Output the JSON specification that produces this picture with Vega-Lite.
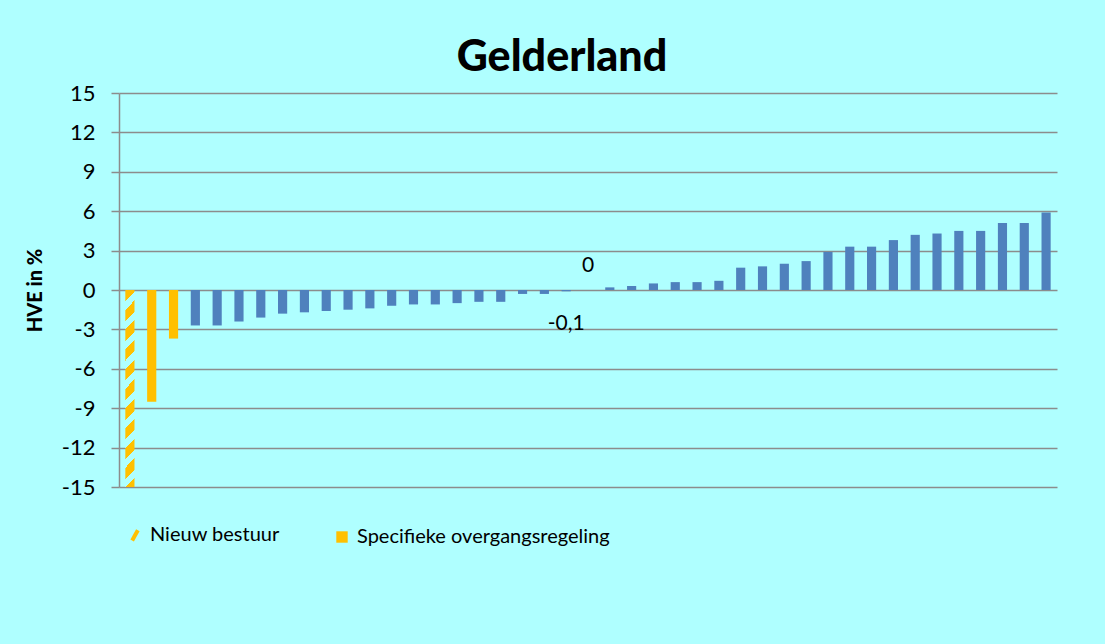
{
  "$schema": "https://vega.github.io/schema/vega-lite/v6.json",
  "autosize": {"type": "none"},
  "width": 938,
  "height": 394,
  "padding": {"left": 119, "top": 93, "right": 48, "bottom": 157},
  "background": "#AFFFFF",
  "title": {
    "text": "Gelderland",
    "font": "Lato",
    "fontSize": 43,
    "fontWeight": 900,
    "color": "#000000",
    "anchor": "middle",
    "dx": -26,
    "offset": 2
  },
  "data": {
    "values": [
      {"i": 0, "value": -15, "series": "Nieuw bestuur", "label": null},
      {"i": 1, "value": -8.5, "series": "Specifieke overgangsregeling", "label": null},
      {"i": 2, "value": -3.7, "series": "Specifieke overgangsregeling", "label": null},
      {"i": 3, "value": -2.7, "series": "Overig", "label": null},
      {"i": 4, "value": -2.7, "series": "Overig", "label": null},
      {"i": 5, "value": -2.4, "series": "Overig", "label": null},
      {"i": 6, "value": -2.1, "series": "Overig", "label": null},
      {"i": 7, "value": -1.8, "series": "Overig", "label": null},
      {"i": 8, "value": -1.7, "series": "Overig", "label": null},
      {"i": 9, "value": -1.6, "series": "Overig", "label": null},
      {"i": 10, "value": -1.5, "series": "Overig", "label": null},
      {"i": 11, "value": -1.4, "series": "Overig", "label": null},
      {"i": 12, "value": -1.2, "series": "Overig", "label": null},
      {"i": 13, "value": -1.1, "series": "Overig", "label": null},
      {"i": 14, "value": -1.1, "series": "Overig", "label": null},
      {"i": 15, "value": -1.0, "series": "Overig", "label": null},
      {"i": 16, "value": -0.9, "series": "Overig", "label": null},
      {"i": 17, "value": -0.9, "series": "Overig", "label": null},
      {"i": 18, "value": -0.3, "series": "Overig", "label": null},
      {"i": 19, "value": -0.3, "series": "Overig", "label": null},
      {"i": 20, "value": -0.1, "series": "Overig", "label": "-0,1"},
      {"i": 21, "value": 0, "series": "Overig", "label": "0"},
      {"i": 22, "value": 0.2, "series": "Overig", "label": null},
      {"i": 23, "value": 0.3, "series": "Overig", "label": null},
      {"i": 24, "value": 0.5, "series": "Overig", "label": null},
      {"i": 25, "value": 0.6, "series": "Overig", "label": null},
      {"i": 26, "value": 0.6, "series": "Overig", "label": null},
      {"i": 27, "value": 0.7, "series": "Overig", "label": null},
      {"i": 28, "value": 1.7, "series": "Overig", "label": null},
      {"i": 29, "value": 1.8, "series": "Overig", "label": null},
      {"i": 30, "value": 2.0, "series": "Overig", "label": null},
      {"i": 31, "value": 2.2, "series": "Overig", "label": null},
      {"i": 32, "value": 2.9, "series": "Overig", "label": null},
      {"i": 33, "value": 3.3, "series": "Overig", "label": null},
      {"i": 34, "value": 3.3, "series": "Overig", "label": null},
      {"i": 35, "value": 3.8, "series": "Overig", "label": null},
      {"i": 36, "value": 4.2, "series": "Overig", "label": null},
      {"i": 37, "value": 4.3, "series": "Overig", "label": null},
      {"i": 38, "value": 4.5, "series": "Overig", "label": null},
      {"i": 39, "value": 4.5, "series": "Overig", "label": null},
      {"i": 40, "value": 5.1, "series": "Overig", "label": null},
      {"i": 41, "value": 5.1, "series": "Overig", "label": null},
      {"i": 42, "value": 5.9, "series": "Overig", "label": null}
    ]
  },
  "encoding": {
    "x": {
      "field": "i",
      "type": "ordinal",
      "axis": null,
      "scale": {"paddingInner": 0.58, "paddingOuter": 0.29}
    },
    "y": {
      "field": "value",
      "type": "quantitative",
      "scale": {"domain": [-15, 15], "nice": false, "zero": true},
      "axis": {
        "values": [-15, -12, -9, -6, -3, 0, 3, 6, 9, 12, 15],
        "labelExpr": "datum.value < 0 ? '-' + abs(datum.value) : '' + datum.value",
        "grid": true,
        "gridColor": "#8C8C8C",
        "gridWidth": 1.5,
        "gridOpacity": 1,
        "domain": true,
        "domainColor": "#8C8C8C",
        "domainWidth": 1.5,
        "ticks": true,
        "tickColor": "#8C8C8C",
        "tickWidth": 1.5,
        "tickSize": 8,
        "labelPadding": 16,
        "labelFont": "Lato",
        "labelFontSize": 22,
        "labelColor": "#000000",
        "title": "HVE in %",
        "titleFont": "Lato",
        "titleFontSize": 20,
        "titleFontWeight": 900,
        "titleColor": "#000000",
        "titleAngle": -90,
        "titleX": -84,
        "titleY": 197,
        "titleAlign": "center",
        "titleBaseline": "middle"
      }
    }
  },
  "layer": [
    {
      "transform": [{"filter": "datum.i != 0"}],
      "mark": {"type": "bar"},
      "encoding": {
        "color": {
          "field": "series",
          "type": "nominal",
          "scale": {
            "domain": ["Nieuw bestuur", "Specifieke overgangsregeling", "Overig"],
            "range": ["#FFC000", "#FFC000", "#4F81BD"]
          },
          "legend": {
            "values": ["Nieuw bestuur", "Specifieke overgangsregeling"],
            "title": null,
            "orient": "none",
            "legendX": 6,
            "legendY": 431,
            "direction": "horizontal",
            "columnPadding": 52,
            "labelFont": "Lato",
            "labelFontSize": 20,
            "labelLimit": 0,
            "labelBaseline": "middle",
            "labelColor": "#000000",
            "labelOffset": 5,
            "symbolSize": 130,
            "encode": {
              "symbols": {
                "update": {
                  "shape": {"signal": "datum.value === 'Nieuw bestuur' ? 'M-0.5,0.9L0.5,-0.9' : 'square'"},
                  "fill": {"signal": "datum.value === 'Nieuw bestuur' ? 'transparent' : '#FFC000'"},
                  "stroke": {"signal": "datum.value === 'Nieuw bestuur' ? '#FFC000' : 'transparent'"},
                  "strokeWidth": {"signal": "datum.value === 'Nieuw bestuur' ? 4 : 0"},
                  "opacity": {"value": 1},
                  "y": {"value": 11}
                }
              },
              "labels": {
                "update": {
                  "y": {"value": 11}
                }
              }
            }
          }
        }
      }
    },
    {
      "transform": [{"filter": "datum.i == 0"}],
      "mark": {
        "type": "bar",
        "fill": {
          "gradient": "linear",
          "x1": 0, "y1": 0, "x2": 0.047, "y2": 1,
          "stops": [
            {"offset": 0.0, "color": "#FFC000"}, {"offset": 0.058, "color": "#FFC000"},
            {"offset": 0.058, "color": "#AFFFFF"}, {"offset": 0.1, "color": "#AFFFFF"},
            {"offset": 0.1, "color": "#FFC000"}, {"offset": 0.158, "color": "#FFC000"},
            {"offset": 0.158, "color": "#AFFFFF"}, {"offset": 0.2, "color": "#AFFFFF"},
            {"offset": 0.2, "color": "#FFC000"}, {"offset": 0.258, "color": "#FFC000"},
            {"offset": 0.258, "color": "#AFFFFF"}, {"offset": 0.3, "color": "#AFFFFF"},
            {"offset": 0.3, "color": "#FFC000"}, {"offset": 0.358, "color": "#FFC000"},
            {"offset": 0.358, "color": "#AFFFFF"}, {"offset": 0.4, "color": "#AFFFFF"},
            {"offset": 0.4, "color": "#FFC000"}, {"offset": 0.458, "color": "#FFC000"},
            {"offset": 0.458, "color": "#AFFFFF"}, {"offset": 0.5, "color": "#AFFFFF"},
            {"offset": 0.5, "color": "#FFC000"}, {"offset": 0.558, "color": "#FFC000"},
            {"offset": 0.558, "color": "#AFFFFF"}, {"offset": 0.6, "color": "#AFFFFF"},
            {"offset": 0.6, "color": "#FFC000"}, {"offset": 0.658, "color": "#FFC000"},
            {"offset": 0.658, "color": "#AFFFFF"}, {"offset": 0.7, "color": "#AFFFFF"},
            {"offset": 0.7, "color": "#FFC000"}, {"offset": 0.758, "color": "#FFC000"},
            {"offset": 0.758, "color": "#AFFFFF"}, {"offset": 0.8, "color": "#AFFFFF"},
            {"offset": 0.8, "color": "#FFC000"}, {"offset": 0.858, "color": "#FFC000"},
            {"offset": 0.858, "color": "#AFFFFF"}, {"offset": 0.9, "color": "#AFFFFF"},
            {"offset": 0.9, "color": "#FFC000"}, {"offset": 0.958, "color": "#FFC000"},
            {"offset": 0.958, "color": "#AFFFFF"}, {"offset": 1.0, "color": "#AFFFFF"},
            {"offset": 1.0, "color": "#FFC000"}
          ]
        }
      }
    },
    {
      "transform": [{"filter": "datum.label != null && datum.value >= 0"}],
      "mark": {"type": "text", "font": "Lato", "fontSize": 21, "color": "#000000", "baseline": "alphabetic", "dy": -18},
      "encoding": {"text": {"field": "label"}}
    },
    {
      "transform": [{"filter": "datum.label != null && datum.value < 0"}],
      "mark": {"type": "text", "font": "Lato", "fontSize": 21, "color": "#000000", "baseline": "alphabetic", "dy": 39},
      "encoding": {"text": {"field": "label"}}
    }
  ],
  "config": {
    "view": {"stroke": null}
  }
}
